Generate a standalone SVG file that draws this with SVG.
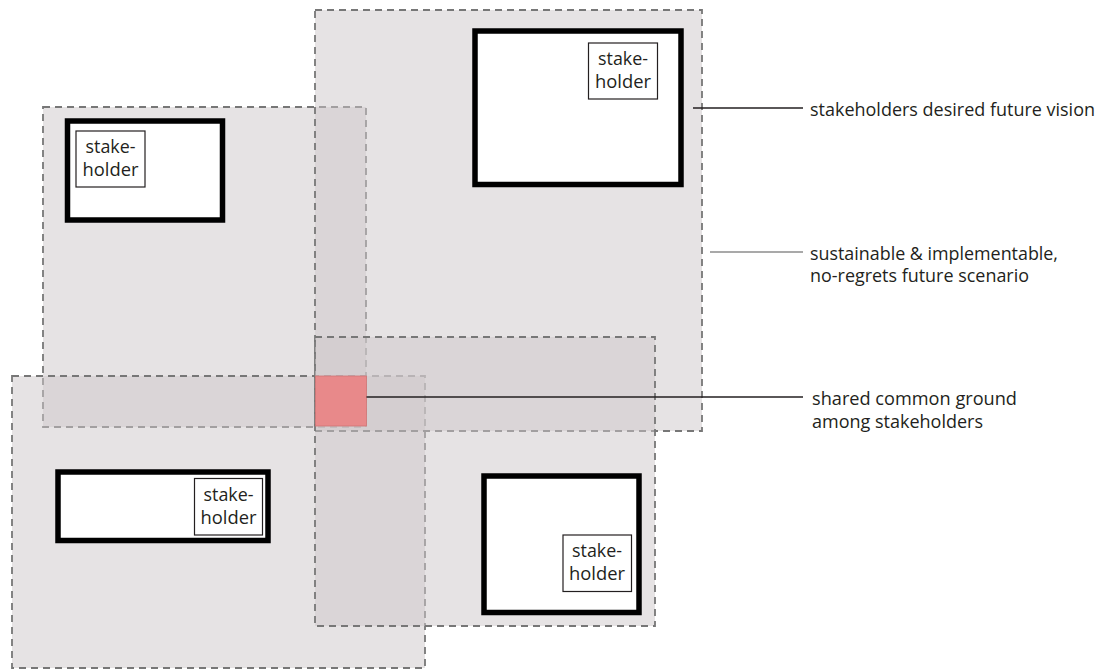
<svg xmlns="http://www.w3.org/2000/svg" width="1099" height="670" viewBox="0 0 1099 670">
<defs>
<style>
.area{fill:#cdc7c9;fill-opacity:0.5}
.edge{fill:none;stroke:#777;stroke-width:1.8;stroke-dasharray:7 5}
.box{fill:#fff;stroke:#000;stroke-width:5.5}
.tag{fill:#fff;stroke:#231f20;stroke-width:1.2}
.t{font-family:"Open Sans","Liberation Sans",sans-serif;fill:#231f20}
.tl{font-size:17.5px;text-anchor:middle}
.lbl{font-size:18px}
.lead{stroke:#231f20;stroke-width:1.3;fill:none}
.lead-grey{stroke:#8c8c8c;stroke-width:1.3;fill:none}
</style>
</defs>
<rect width="1099" height="670" fill="#fff"/>
<g id="scenario-top-left">
<rect class="area" x="43" y="107" width="323" height="320"/>
<rect class="edge" x="43" y="107" width="323" height="320"/>
</g>
<g id="scenario-bottom-left">
<rect class="area" x="12" y="376" width="413" height="292"/>
<rect class="edge" x="12" y="376" width="413" height="292"/>
</g>
<g id="scenario-top-right">
<rect class="area" x="315" y="10" width="387" height="421"/>
<rect class="edge" x="315" y="10" width="387" height="421"/>
</g>
<g id="scenario-bottom-right">
<rect class="area" x="315" y="337" width="340" height="289"/>
<rect class="edge" x="315" y="337" width="340" height="289"/>
</g>
<g id="stakeholder-top-right">
<rect class="box" x="475" y="31" width="206" height="153.5"/>
<rect class="tag" x="588.5" y="43" width="69" height="56"/>
<text class="t tl" x="623" y="65" textLength="50" lengthAdjust="spacingAndGlyphs">stake-</text>
<text class="t tl" x="623" y="88" textLength="56" lengthAdjust="spacingAndGlyphs">holder</text>
</g>
<g id="stakeholder-top-left">
<rect class="box" x="67.5" y="121" width="155" height="99"/>
<rect class="tag" x="76" y="131" width="69" height="56"/>
<text class="t tl" x="110.5" y="153" textLength="50" lengthAdjust="spacingAndGlyphs">stake-</text>
<text class="t tl" x="110.5" y="176" textLength="56" lengthAdjust="spacingAndGlyphs">holder</text>
</g>
<g id="stakeholder-bottom-left">
<rect class="box" x="58" y="472" width="210" height="68.5"/>
<rect class="tag" x="194.5" y="478.5" width="68" height="56.5"/>
<text class="t tl" x="228.5" y="501" textLength="50" lengthAdjust="spacingAndGlyphs">stake-</text>
<text class="t tl" x="228.5" y="524" textLength="56" lengthAdjust="spacingAndGlyphs">holder</text>
</g>
<g id="stakeholder-bottom-right">
<rect class="box" x="484" y="476" width="155" height="136.5"/>
<rect class="tag" x="563" y="535" width="68.5" height="56.5"/>
<text class="t tl" x="597" y="557" textLength="50" lengthAdjust="spacingAndGlyphs">stake-</text>
<text class="t tl" x="597" y="580" textLength="56" lengthAdjust="spacingAndGlyphs">holder</text>
</g>
<g id="common-ground">
<rect x="315.5" y="376" width="51" height="50" fill="#e8898a" stroke="#d07474" stroke-width="0.8"/>
</g>
<g id="connectors">
<line class="lead" x1="693" y1="108" x2="803" y2="108"/>
<line class="lead-grey" x1="710" y1="252" x2="803" y2="252"/>
<line class="lead" x1="366.5" y1="397" x2="803" y2="397"/>
</g>
<g id="labels">
<text class="t lbl" x="810" y="116" textLength="285" lengthAdjust="spacingAndGlyphs">stakeholders desired future vision</text>
<text class="t lbl" x="810" y="260" textLength="248" lengthAdjust="spacingAndGlyphs">sustainable &amp; implementable,</text>
<text class="t lbl" x="810" y="282" textLength="219" lengthAdjust="spacingAndGlyphs">no-regrets future scenario</text>
<text class="t lbl" x="812" y="405" textLength="205" lengthAdjust="spacingAndGlyphs">shared common ground</text>
<text class="t lbl" x="812" y="428" textLength="171" lengthAdjust="spacingAndGlyphs">among stakeholders</text>
</g>
</svg>
